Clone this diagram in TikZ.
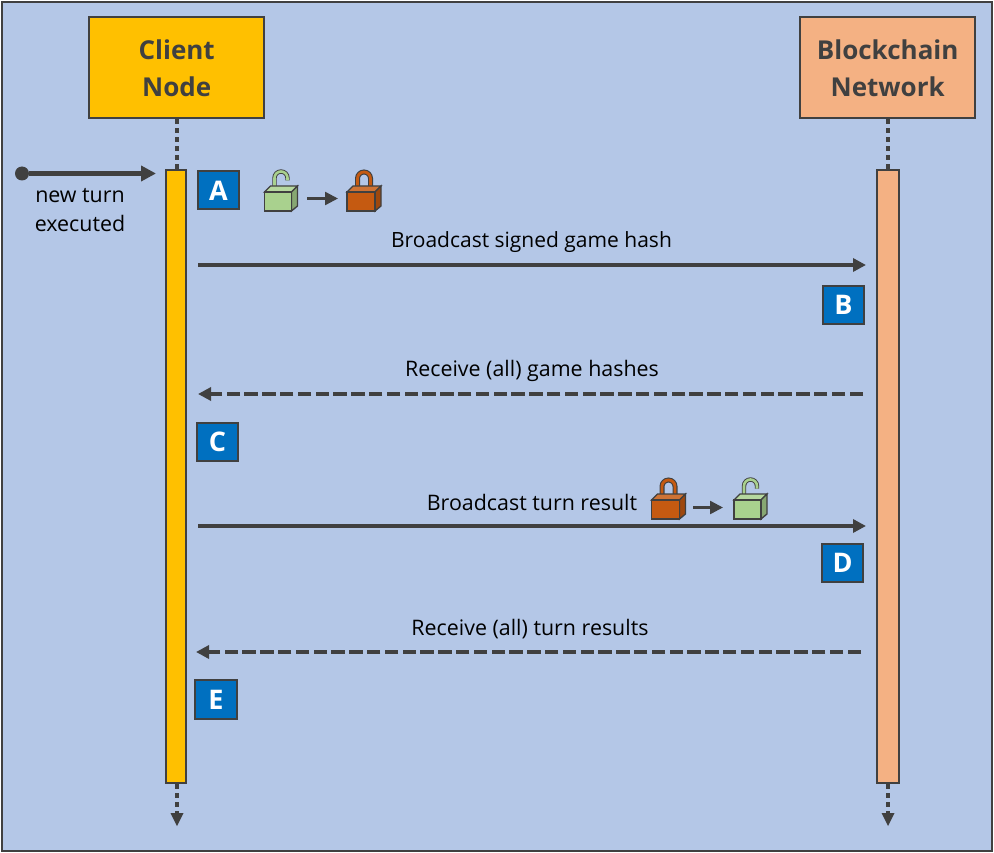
\documentclass[tikz,border=0pt]{standalone}
\usepackage{fontspec}
\setmainfont{Open Sans}
\usetikzlibrary{arrows.meta,calc}
\definecolor{bgblue}{HTML}{B4C7E7}
\definecolor{ink}{HTML}{404040}
\definecolor{gold}{HTML}{FFC000}
\definecolor{salmon}{HTML}{F4B183}
\definecolor{tagblue}{HTML}{0070C0}
\definecolor{lockgreen}{HTML}{A9D18E}
\definecolor{lockorange}{HTML}{C55A11}
\tikzset{
  x=1pt,y=-1pt,
  headbox/.style={draw=ink,line width=2pt,minimum width=175pt,minimum height=101pt,inner sep=0pt,align=center,
     font=\fontsize{26}{37}\selectfont\bfseries,text=ink},
  lifebar/.style={draw=ink,line width=2pt,inner sep=0pt},
  tagbox/.style={draw=ink,line width=2pt,fill=tagblue,text=white,inner sep=0pt,font=\fontsize{27}{27}\selectfont\bfseries},
  msg/.style={font=\fontsize{21.4}{29}\selectfont,text=black,inner sep=0pt,align=center},
  solidmsg/.style={draw=ink,line width=4pt,-{Triangle[length=13pt,width=13pt]}},
  dashmsg/.style={solidmsg,dash pattern=on 13.5pt off 4.3pt},
  startmsg/.style={draw=ink,line width=4.5pt,-{Triangle[length=15pt,width=15pt]}},
  lifedots/.style={draw=ink,line width=4pt,dash pattern=on 4.5pt off 4.5pt},
  smallarrow/.style={draw=ink,line width=2.5pt,-{Triangle[length=13pt,width=13pt]}},
  pics/lockclosed/.style={code={
    \draw[ink,line width=5pt] (10.5,21) -- (10.5,8.5) arc[start angle=180,end angle=0,x radius=6.5,y radius=-6.5] -- (23.5,21);
    \draw[lockorange,line width=2.8pt] (10.5,21) -- (10.5,8.5) arc[start angle=180,end angle=0,x radius=6.5,y radius=-6.5] -- (23.5,21);
    \draw[ink,line width=1.3pt,fill=lockorange!85!white] (0,22) -- (6,16) -- (34,16) -- (28,22) -- cycle;
    \draw[ink,line width=1.3pt,fill=lockorange!80!black] (28,22) -- (34,16) -- (34,36) -- (28,41) -- cycle;
    \draw[ink,line width=1.3pt,fill=lockorange] (0,22) rectangle (28,41);
  }},
  pics/lockopen/.style={code={
    \draw[ink,line width=4.4pt] (10,21) -- (10,8) arc[start angle=180,end angle=0,x radius=6.5,y radius=-6.5] -- (23,10.5);
    \draw[lockgreen,line width=2.6pt] (10,21) -- (10,8) arc[start angle=180,end angle=0,x radius=6.5,y radius=-6.5] -- (23,10.5);
    \draw[ink,line width=1.3pt,fill=lockgreen!85!white] (0,22) -- (6,16) -- (33,16) -- (27,22) -- cycle;
    \draw[ink,line width=1.3pt,fill=lockgreen!80!black] (27,22) -- (33,16) -- (33,36) -- (27,41) -- cycle;
    \draw[ink,line width=1.3pt,fill=lockgreen] (0,22) rectangle (27,41);
  }},
}
\begin{document}
\begin{tikzpicture}
\useasboundingbox (0,0) rectangle (994,853);
\draw[ink,line width=2pt,fill=bgblue] (2,2) rectangle (992,851);

% lifeline heads
\node[headbox,fill=gold] (client) at (176.7,68) {Client\\Node};
\node[headbox,fill=salmon] (chain) at (887.7,68) {Blockchain\\Network};

% activation bars
\node[lifebar,fill=gold,minimum width=20pt,minimum height=613pt] (clientbar) at (176,476.5) {};
\node[lifebar,fill=salmon,minimum width=22pt,minimum height=613pt] (chainbar) at (888,476.5) {};

% dotted lifelines
\draw[lifedots] (client.south) -- (client.south |- clientbar.north);
\draw[lifedots] (chain.south) -- (chain.south |- chainbar.north);
\coordinate (clientend) at (177,826);
\coordinate (chainend) at (888,826);
\draw[lifedots] (clientend |- clientbar.south) -- ($(clientend)+(0,-13)$);
\draw[lifedots] (chainend |- chainbar.south) -- ($(chainend)+(0,-13)$);
\fill[ink] ($(clientend)+(-6.5,-13)$) -- ($(clientend)+(6.5,-13)$) -- (clientend) -- cycle;
\fill[ink] ($(chainend)+(-6.5,-13)$) -- ($(chainend)+(6.5,-13)$) -- (chainend) -- cycle;

% new turn
\node[circle,fill=ink,minimum size=14pt,inner sep=0pt] (start) at (22,173.5) {};
\coordinate (startend) at (156,173.5);
\draw[startmsg] (start) -- (startend);
\node[msg] (newturn) at (80,210) {new turn\\executed};

% messages
\coordinate (m1a) at (198,265); \coordinate (m1b) at (866,265);
\coordinate (m2a) at (863,394); \coordinate (m2b) at (198,394);
\coordinate (m3a) at (198,526); \coordinate (m3b) at (866,526);
\coordinate (m4a) at (861,652); \coordinate (m4b) at (196,652);
\draw[solidmsg] (m1a) -- (m1b);
\draw[dashmsg] (m2a) -- (m2b);
\draw[solidmsg] (m3a) -- (m3b);
\draw[dashmsg] (m4a) -- (m4b);
\node[msg,font=\fontsize{21}{29}\selectfont] (l1) at (531.5,242) {Broadcast signed game hash};
\node[msg] (l2) at (532,371) {Receive (all) game hashes};
\node[msg] (l3) at (532,502) {Broadcast turn result};
\node[msg] (l4) at (530,629) {Receive (all) turn results};

% tags
\node[tagbox,minimum width=41pt,minimum height=38pt] (A) at (218.5,190.5) {A};
\node[tagbox,minimum width=41pt,minimum height=38pt] (B) at (843.5,305) {B};
\node[tagbox,minimum width=41pt,minimum height=38pt] (C) at (217.5,441.5) {C};
\node[tagbox,minimum width=41pt,minimum height=38pt] (D) at (842.5,563) {D};
\node[tagbox,minimum width=42pt,minimum height=39pt] (E) at (216,699.5) {E};

% locks
\pic at (264.5,170) {lockopen};
\pic at (347,170) {lockclosed};
\coordinate (s1a) at (307,198.5); \coordinate (s1b) at (338,198.5);
\draw[smallarrow] (s1a) -- (s1b);
\pic at (651.5,478) {lockclosed};
\pic at (734,478) {lockopen};
\coordinate (s2a) at (693,507.5); \coordinate (s2b) at (723,507.5);
\draw[smallarrow] (s2a) -- (s2b);
\end{tikzpicture}
\end{document}
